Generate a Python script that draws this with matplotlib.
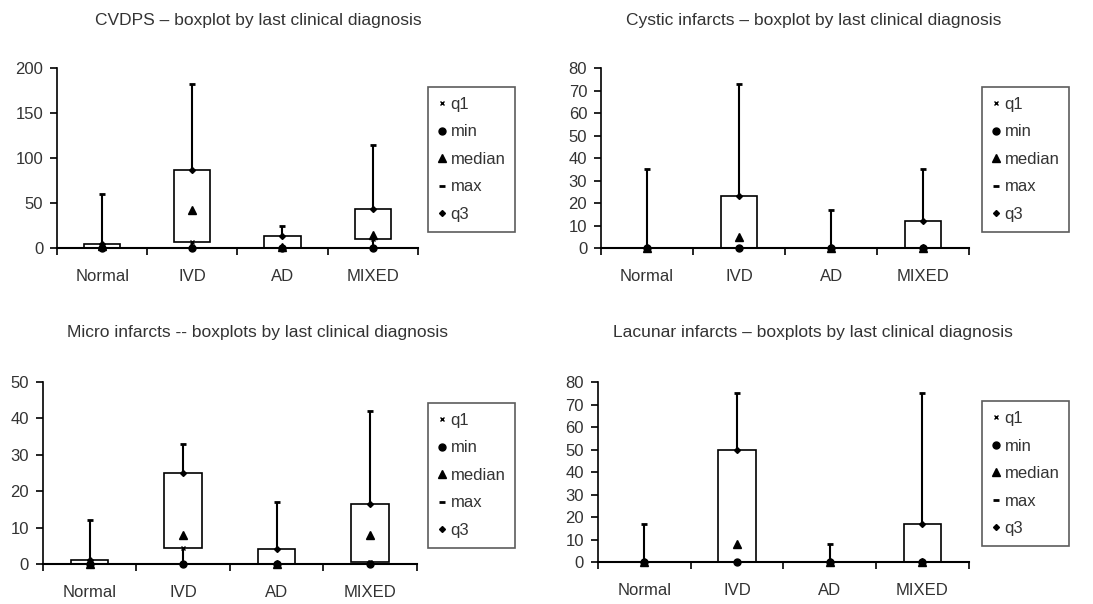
import numpy as np
import matplotlib.pyplot as plt

plt.rcParams['font.family'] = ['Liberation Sans', 'DejaVu Sans']

categories = ['Normal', 'IVD', 'AD', 'MIXED']

# CVDPS
cvdps_min = [0, 0, 0, 0]
cvdps_q1 = [0, 7, 0, 10]
cvdps_median = [2, 42, 1, 15]
cvdps_q3 = [4, 87, 13, 43]
cvdps_max = [60, 182, 24, 114]

# Cystic infarcts
cystic_min = [0, 0, 0, 0]
cystic_q1 = [0, 0, 0, 0]
cystic_median = [0, 5, 0, 0]
cystic_q3 = [0, 23, 0, 12]
cystic_max = [35, 73, 17, 35]

# Micro infarcts
micro_min = [0, 0, 0, 0]
micro_q1 = [0, 4.5, 0, 0.5]
micro_median = [0, 8, 0, 8]
micro_q3 = [1, 25, 4, 16.5]
micro_max = [12, 33, 17, 42]

# Lacunar infarcts
lacunar_min = [0, 0, 0, 0]
lacunar_q1 = [0, 0, 0, 0]
lacunar_median = [0, 8, 0, 0]
lacunar_q3 = [0, 50, 0, 17]
lacunar_max = [17, 75, 8, 75]

panels = [
    ('CVDPS \u2013 boxplot by last clinical diagnosis',
     cvdps_min, cvdps_q1, cvdps_median, cvdps_q3, cvdps_max, 200, 50),
    ('Cystic infarcts \u2013 boxplot by last clinical diagnosis',
     cystic_min, cystic_q1, cystic_median, cystic_q3, cystic_max, 80, 10),
    ('Micro infarcts -- boxplots by last clinical diagnosis',
     micro_min, micro_q1, micro_median, micro_q3, micro_max, 50, 10),
    ('Lacunar infarcts \u2013 boxplots by last clinical diagnosis',
     lacunar_min, lacunar_q1, lacunar_median, lacunar_q3, lacunar_max, 80, 10),
]

axes_rects = [
    [0.0522, 0.5894, 0.330, 0.298],
    [0.5499, 0.5894, 0.3367, 0.298],
    [0.0393, 0.0662, 0.342, 0.3013],
    [0.547, 0.0695, 0.3394, 0.298],
]
legend_pos = [(0.3916, 0.856), (0.8984, 0.856), (0.3916, 0.333), (0.8984, 0.336)]
title_pos = [(0.236, 0.966), (0.744, 0.966), (0.236, 0.449), (0.744, 0.449)]

txt = '#333333'
fig = plt.figure(figsize=(10.93, 6.04), dpi=100)

for (title, mn, q1, med, q3, mx, ymax, step), rect, lpos, tpos in zip(
        panels, axes_rects, legend_pos, title_pos):
    ax = fig.add_axes(rect)
    x = np.arange(1, len(categories) + 1)
    # high-low lines
    ax.vlines(x, mn, mx, color='black', lw=1.5, zorder=1)
    # boxes q1..q3
    ax.bar(x, np.array(q3) - np.array(q1), bottom=q1, width=0.4,
           facecolor='white', edgecolor='black', lw=1.2, zorder=2)
    ax.plot(x, q1, 'x', color='black', ms=3, mew=1, ls='none', label='q1', zorder=3)
    ax.plot(x, mn, 'o', color='black', ms=5, ls='none', label='min', zorder=3)
    ax.plot(x, med, '^', color='black', ms=6, ls='none', label='median', zorder=3)
    ax.plot(x, mx, '_', color='black', ms=5, mew=2, ls='none', label='max', zorder=3)
    ax.plot(x, q3, 'D', color='black', ms=3, ls='none', label='q3', zorder=3)

    ax.set_xlim(0.5, len(categories) + 0.5)
    ax.set_ylim(0, ymax)
    ax.set_yticks(np.arange(0, ymax + step, step))
    ax.set_xticks(np.arange(0.5, len(categories) + 1, 1))
    ax.set_xticklabels([])
    ax.set_xticks(x, minor=True)
    ax.set_xticklabels(categories, minor=True)
    ax.tick_params(axis='x', which='minor', length=0, pad=15, labelsize=12, labelcolor=txt)
    ax.tick_params(axis='x', which='major', length=5, width=1.2, direction='out')
    ax.tick_params(axis='y', length=5, width=1.2, direction='out', labelsize=12,
                   labelcolor=txt, pad=5)
    for s in ['top', 'right']:
        ax.spines[s].set_visible(False)
    ax.spines['left'].set_linewidth(1.2)
    ax.spines['bottom'].set_linewidth(1.5)
    for a in ax.get_children():
        try:
            a.set_clip_on(False)
        except Exception:
            pass

    fig.text(tpos[0], tpos[1], title, ha='center', va='center', fontsize=12.5, color=txt)

    leg = ax.legend(loc='upper left', bbox_to_anchor=lpos, bbox_transform=fig.transFigure,
                    fontsize=12, frameon=True, fancybox=False, handlelength=0.5,
                    handletextpad=0.25, labelspacing=0.75, borderpad=0.6,
                    borderaxespad=0)
    leg.get_frame().set_edgecolor('#333333')
    leg.get_frame().set_linewidth(1.2)
    for t in leg.get_texts():
        t.set_color(txt)

fig.savefig('out.png', dpi=100)
